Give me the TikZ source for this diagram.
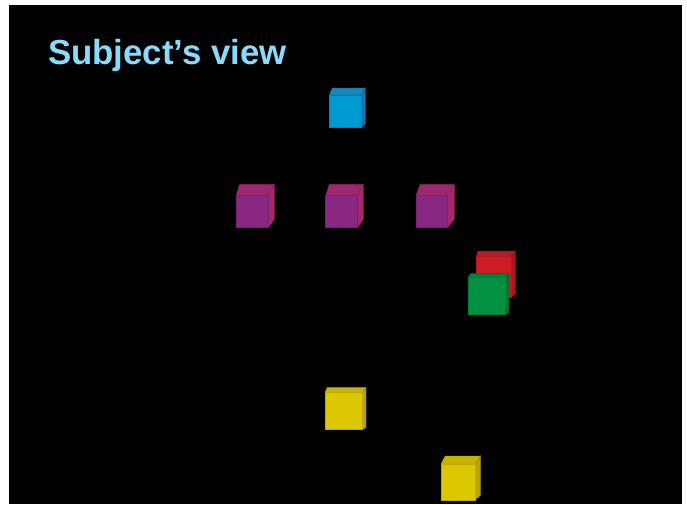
\documentclass[tikz,border=0pt]{standalone}
\usepackage{fontspec}
\setmainfont{Liberation Sans}
\definecolor{titleblue}{RGB}{138,218,252}
\definecolor{bluef}{RGB}{0,155,210}\definecolor{bluet}{RGB}{22,136,190}\definecolor{blues}{RGB}{10,120,175}
\definecolor{purf}{RGB}{137,40,130}\definecolor{purt}{RGB}{156,40,112}\definecolor{purs}{RGB}{165,40,108}
\definecolor{redf}{RGB}{205,30,40}\definecolor{redt}{RGB}{185,25,32}\definecolor{reds}{RGB}{170,20,28}
\definecolor{grnf}{RGB}{0,145,66}\definecolor{grnt}{RGB}{0,130,58}\definecolor{grns}{RGB}{0,118,50}
\definecolor{yelf}{RGB}{220,200,0}\definecolor{yelt}{RGB}{200,180,0}\definecolor{yels}{RGB}{185,166,0}
% \cubeshape{x1}{y1}{x2}{y2}{dxl}{dxr}{dyt}{dyb}{front}{top}{side}
\newcommand{\cubeshape}[8]{%
  \fill[#8t,draw=#8s!80!black,line width=0.4pt] (#1,#2) -- (#1+#5,#2-#7) -- (#3+#6,#2-#7) -- (#3,#2) -- cycle;
  \fill[#8s,draw=#8s!80!black,line width=0.4pt] (#3,#2) -- (#3+#6,#2-#7) -- (#3+#6,#4-#7+3) -- (#3,#4) -- cycle;
  \fill[#8f,draw=#8f!85!black,line width=0.5pt] (#1,#2) rectangle (#3,#4);
}
\begin{document}
\begin{tikzpicture}[x=1pt,y=-1pt]
\useasboundingbox (0,0) rectangle (687,504);
\fill[white] (0,0) rectangle (687,504);
\fill[black] (9,5) rectangle (682,504);
\node[anchor=base west,inner sep=0pt,font=\bfseries\fontsize{34.8}{40}\selectfont,text=titleblue] (title) at (48,64.5) {Subject’s view};
% blue
\cubeshape{329.3}{95}{361}{127.7}{3}{4.3}{7}{blue}
% purple row
\cubeshape{236}{195.7}{268.3}{227.7}{3.7}{6}{11.4}{pur}
\cubeshape{325.7}{195.7}{357.7}{227.7}{3.6}{5.6}{11.4}{pur}
\cubeshape{416}{195.7}{447.7}{227.7}{4}{6.6}{11.4}{pur}
% red and green
\cubeshape{476}{256.7}{511}{297}{2}{4.7}{5.7}{red}
\cubeshape{468.3}{277.3}{505.7}{314}{2.4}{3.3}{4}{grn}
% yellow
\cubeshape{325}{392.3}{362.7}{429.3}{2.3}{3.3}{5}{yel}
\cubeshape{441}{464}{475.3}{500}{4}{5.4}{8}{yel}
\end{tikzpicture}
\end{document}
